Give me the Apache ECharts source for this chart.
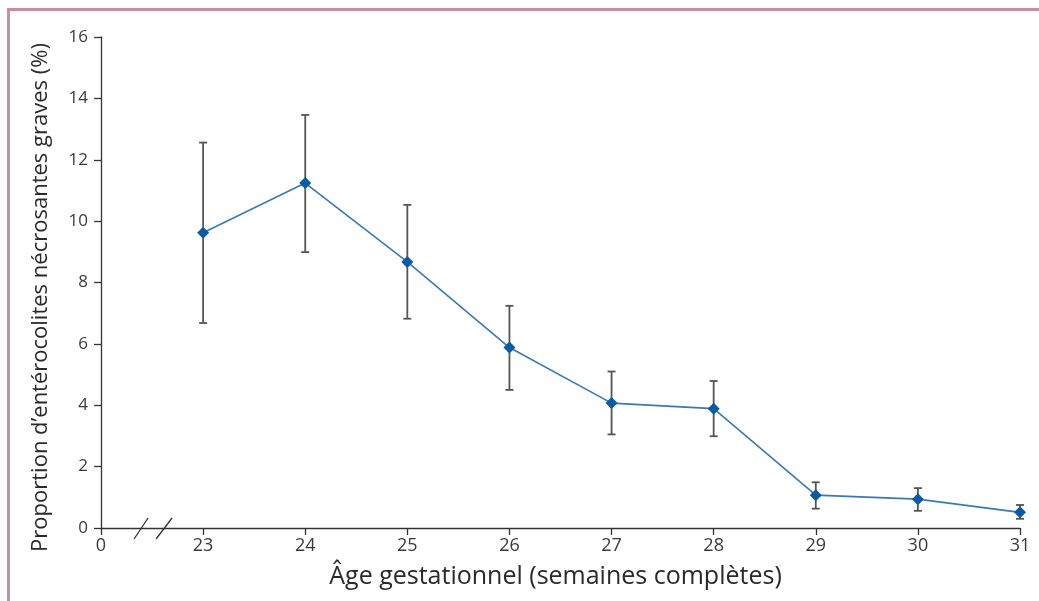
<!DOCTYPE html>
<html>
<head>
<meta charset="utf-8">
<script src="https://cdn.jsdelivr.net/npm/echarts@6/dist/echarts.min.js"></script>
<style>
html,body{margin:0;padding:0;background:#fff;}
#wrap{position:relative;width:1039px;height:601px;overflow:hidden;}
#frame{position:absolute;left:7px;top:8px;width:1100px;height:700px;border-left:3px solid #c98d9d;border-top:3px solid #c98d9d;box-sizing:border-box;}
#chart{position:absolute;left:0;top:0;width:1039px;height:601px;}
</style>
</head>
<body>
<div id="wrap"><div id="frame"></div><div id="chart"></div></div>
<script>
const weeks = [23, 24, 25, 26, 27, 28, 29, 30, 31];
const values = [9.62, 11.24, 8.67, 5.88, 4.07, 3.89, 1.07, 0.94, 0.51];
const lower = [6.68, 8.99, 6.82, 4.50, 3.05, 2.99, 0.63, 0.56, 0.30];
const upper = [12.56, 13.46, 10.53, 7.24, 5.10, 4.79, 1.49, 1.30, 0.75];
const xOriginLabel = '0';
const yTicks = [0, 2, 4, 6, 8, 10, 12, 14, 16];
const xName = 'Âge gestationnel (semaines complètes)';
const yName = 'Proportion d\u2019entérocolites nécrosantes graves (%)';

const xMin = weeks[0] - 1;
const font = 'Open Sans';

const chart = echarts.init(document.getElementById('chart'), null, {renderer: 'canvas'});
const option = {
  backgroundColor: 'transparent',
  animation: false,
  grid: {left: 101, right: 19, top: 37, bottom: 73, containLabel: false},
  xAxis: {
    type: 'value', min: xMin, max: weeks[weeks.length - 1], interval: 1,
    name: xName, nameLocation: 'middle', nameGap: 36,
    nameTextStyle: {fontFamily: font, fontSize: 25, color: '#2a2a2a', padding: [0, 10, 0, 0]},
    axisLine: {lineStyle: {color: '#333', width: 1.3}},
    axisTick: {inside: false, length: 7, lineStyle: {color: '#333', width: 1.3}},
    axisLabel: {fontFamily: font, fontSize: 18, color: '#3a3a3a', margin: 9,
      formatter: v => v === xMin ? xOriginLabel : String(v)},
    splitLine: {show: false}
  },
  yAxis: {
    type: 'value', min: yTicks[0], max: yTicks[yTicks.length - 1], interval: 2,
    name: yName, nameLocation: 'middle', nameGap: 49,
    nameTextStyle: {fontFamily: font, fontSize: 22, color: '#2a2a2a', padding: [0, 30, 0, 0]},
    axisLine: {show: true, lineStyle: {color: '#333', width: 1.3}},
    axisTick: {show: true, inside: false, length: 7, lineStyle: {color: '#333', width: 1.3}},
    axisLabel: {fontFamily: font, fontSize: 17, color: '#3a3a3a', margin: 13},
    splitLine: {show: false}
  },
  series: [
    {
      type: 'custom',
      name: 'err',
      data: weeks.map((w, i) => [w, lower[i], upper[i]]),
      renderItem: function (params, api) {
        const x = api.value(0);
        const lo = api.coord([x, api.value(1)]);
        const hi = api.coord([x, api.value(2)]);
        const hw = 4;
        const style = {stroke: '#555', lineWidth: 1.8};
        return {type: 'group', children: [
          {type: 'line', shape: {x1: lo[0], y1: lo[1], x2: hi[0], y2: hi[1]}, style: style},
          {type: 'line', shape: {x1: hi[0] - hw, y1: hi[1], x2: hi[0] + hw, y2: hi[1]}, style: style},
          {type: 'line', shape: {x1: lo[0] - hw, y1: lo[1], x2: lo[0] + hw, y2: lo[1]}, style: style}
        ]};
      },
      z: 2
    },
    {
      type: 'line',
      data: weeks.map((w, i) => [w, values[i]]),
      symbol: 'diamond', symbolSize: 12,
      lineStyle: {color: '#3a78b8', width: 1.6},
      itemStyle: {color: '#0b5aa6'},
      z: 3
    },
    {
      type: 'custom',
      name: 'break',
      data: [[(xMin + weeks[0]) / 2, 0]],
      renderItem: function (params, api) {
        const c = api.coord([api.value(0), api.value(1)]);
        const style = {stroke: '#333', lineWidth: 1.3};
        const d = 11;
        return {type: 'group', children: [
          {type: 'line', shape: {x1: c[0] - d - 7, y1: c[1] + 11, x2: c[0] - d + 7, y2: c[1] - 10}, style: style},
          {type: 'line', shape: {x1: c[0] + d - 7, y1: c[1] + 11, x2: c[0] + d + 9, y2: c[1] - 10}, style: style}
        ]};
      },
      z: 4, silent: true
    }
  ]
};
chart.setOption(option);
</script>
</body>
</html>
